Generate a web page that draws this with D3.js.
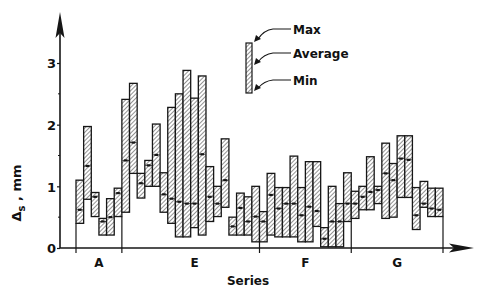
<!DOCTYPE html>
<html><head><meta charset="utf-8">
<script src="https://cdn.jsdelivr.net/npm/d3@7/dist/d3.min.js"></script>
<style>
html,body{margin:0;padding:0;background:#fff;}
text{font-family:"DejaVu Sans",sans-serif;fill:#111;}
</style></head>
<body><svg id="c" width="477" height="287"></svg>
<script>
// ---- data ----
const categories = ["A","E","F","G"];
const groupSizes = [6,18,12,12];
const maxVals = [1.10,1.97,0.90,0.48,0.80,0.97, 2.41,2.67,1.21,1.42,2.01,1.22,2.28,2.50,2.88,2.43,2.79,1.32,1.00,1.77,0.50,0.89,0.83,1.00, 0.59,1.21,0.98,0.98,1.49,0.98,1.40,1.40,0.33,1.00,0.72,1.22, 0.92,1.00,1.48,1.00,1.70,1.37,1.82,1.82,0.98,1.08,0.97,0.97];
const avgVals = [0.62,1.33,0.83,0.43,0.50,0.89, 1.42,1.71,1.05,1.34,1.51,0.87,0.80,0.75,0.72,0.72,1.52,0.83,0.72,1.10,0.35,0.65,0.43,0.51, 0.43,0.86,0.64,0.72,0.72,0.53,0.67,0.60,0.15,0.43,0.43,0.72, 0.72,0.83,0.91,0.94,1.21,1.10,1.45,1.43,0.53,0.72,0.64,0.62];
const minVals = [0.40,0.79,0.51,0.21,0.21,0.51, 0.58,1.21,0.81,1.00,1.00,0.58,0.40,0.18,0.18,0.33,0.21,0.43,0.51,0.66,0.21,0.21,0.21,0.10, 0.10,0.21,0.18,0.18,0.18,0.10,0.10,0.35,0.02,0.02,0.02,0.43, 0.48,0.62,0.62,0.72,0.48,0.50,0.82,0.82,0.30,0.66,0.51,0.51];
const yTicks = [0,1,2,3];
const legendLabels = ["Max","Average","Min"];

// ---- chart ----
const svg = d3.select("#c");
const n = maxVals.length;
const x = d3.scaleBand().domain(d3.range(n)).range([76,443]).padding(0);
const y = d3.scaleLinear().domain([0,3]).range([248,63]);
const ink = "#161616";

const defs = svg.append("defs");
const pat = defs.append("pattern").attr("id","hatch").attr("patternUnits","userSpaceOnUse")
  .attr("width",3).attr("height",3).attr("patternTransform","rotate(45)");
pat.append("rect").attr("width",3).attr("height",3).attr("fill","#fff");
pat.append("line").attr("x1",0).attr("y1",0).attr("x2",0).attr("y2",3)
  .attr("stroke","#4a4a4a").attr("stroke-width",1.2);

// group boundary lines
const bounds = [0];
groupSizes.reduce((a,s)=>{bounds.push(a+s);return a+s;},0);
bounds.forEach(b=>{
  const xp = b<n ? x(b) : x(n-1)+x.bandwidth();
  const adj = [];
  if(b>0) adj.push(minVals[b-1]);
  if(b<n) adj.push(minVals[b]);
  svg.append("line").attr("x1",xp).attr("x2",xp)
    .attr("y1",y(d3.min(adj))).attr("y2",y(0)+5)
    .attr("stroke",ink).attr("stroke-width",1.2);
});

// bars
const idx = d3.range(n);
svg.append("g").selectAll("rect").data(idx).join("rect")
  .attr("x",i=>x(i)).attr("width",x.bandwidth())
  .attr("y",i=>y(maxVals[i])).attr("height",i=>y(minVals[i])-y(maxVals[i]))
  .attr("fill","url(#hatch)").attr("stroke",ink).attr("stroke-width",1.3);

// average marks
const g2 = svg.append("g");
g2.selectAll("line").data(idx).join("line")
  .attr("x1",i=>x(i)+0.5).attr("x2",i=>x(i)+x.bandwidth()-0.5)
  .attr("y1",i=>y(avgVals[i])).attr("y2",i=>y(avgVals[i]))
  .attr("stroke",ink).attr("stroke-width",0.8);
g2.selectAll("rect").data(idx).join("rect")
  .attr("x",i=>x(i)+x.bandwidth()/2-1.8).attr("width",3.6)
  .attr("y",i=>y(avgVals[i])-1.1).attr("height",2.2).attr("fill",ink);

// axes
svg.append("line").attr("x1",60).attr("x2",60).attr("y1",y(0)).attr("y2",30)
  .attr("stroke",ink).attr("stroke-width",1.6);
svg.append("path").attr("d","M60,12 L55.5,38 L60,33 L64.5,38 Z").attr("fill",ink);
svg.append("line").attr("x1",60).attr("x2",455).attr("y1",y(0)).attr("y2",y(0))
  .attr("stroke",ink).attr("stroke-width",1.6);
svg.append("path").attr("d",`M474,${y(0)} L449,${y(0)-4.5} L454,${y(0)} L449,${y(0)+4.5} Z`).attr("fill",ink);

const yAxis = d3.axisLeft(y).tickValues(yTicks).tickSize(3).tickFormat(d3.format("d"));
const ga = svg.append("g").attr("transform","translate(60,0)").call(yAxis);
ga.select(".domain").remove();
ga.selectAll("line").attr("stroke",ink).attr("stroke-width",1.2);
ga.selectAll("text").attr("font-size",13).attr("x",-4).attr("dy","0.36em").attr("fill",ink)
  .attr("font-family","DejaVu Sans").attr("font-weight","bold");
// minor ticks
svg.append("g").selectAll("line").data([0.5,1.5,2.5]).join("line")
  .attr("x1",58).attr("x2",60).attr("y1",d=>y(d)).attr("y2",d=>y(d))
  .attr("stroke",ink).attr("stroke-width",1);

// category labels
let acc = 0;
categories.forEach((c,k)=>{
  const a = x(acc), b = x(acc+groupSizes[k]-1)+x.bandwidth();
  acc += groupSizes[k];
  svg.append("text").attr("x",(a+b)/2 + (k===1?4:0)).attr("y",267).attr("text-anchor","middle")
    .attr("font-size",12).attr("font-weight","bold").text(c);
});
svg.append("text").attr("x",248).attr("y",285).attr("text-anchor","middle")
  .attr("font-size",12).attr("font-weight","bold").text("Series");

// y label
const yl = svg.append("text").attr("transform","translate(21,193) rotate(-90)")
  .attr("text-anchor","middle").attr("font-size",13).attr("font-weight","bold");
yl.append("tspan").text("Δ");
yl.append("tspan").attr("font-size",10).attr("dy",4).text("s");
yl.append("tspan").attr("dy",-4).text(" , mm");

// legend
svg.append("rect").attr("x",246).attr("y",43).attr("width",6).attr("height",50)
  .attr("fill","url(#hatch)").attr("stroke",ink).attr("stroke-width",1.2);
const legY = [29,53,80];
const tgtY = [42,65,91];
legendLabels.forEach((t,k)=>{
  svg.append("text").attr("x",293).attr("y",legY[k]+4.5).attr("font-size",12)
    .attr("font-weight","bold").text(t);
  svg.append("path").attr("d",`M291,${legY[k]} L273,${legY[k]} Q264,${legY[k]+1} 258,${tgtY[k]-3}`)
    .attr("fill","none").attr("stroke",ink).attr("stroke-width",1.1);
  const ax=254, ay=tgtY[k];
  svg.append("path").attr("d",`M${ax},${ay} L${ax+2},${ay-7} L${ax+7},${ay-3} Z`).attr("fill",ink);
});
</script></body></html>
